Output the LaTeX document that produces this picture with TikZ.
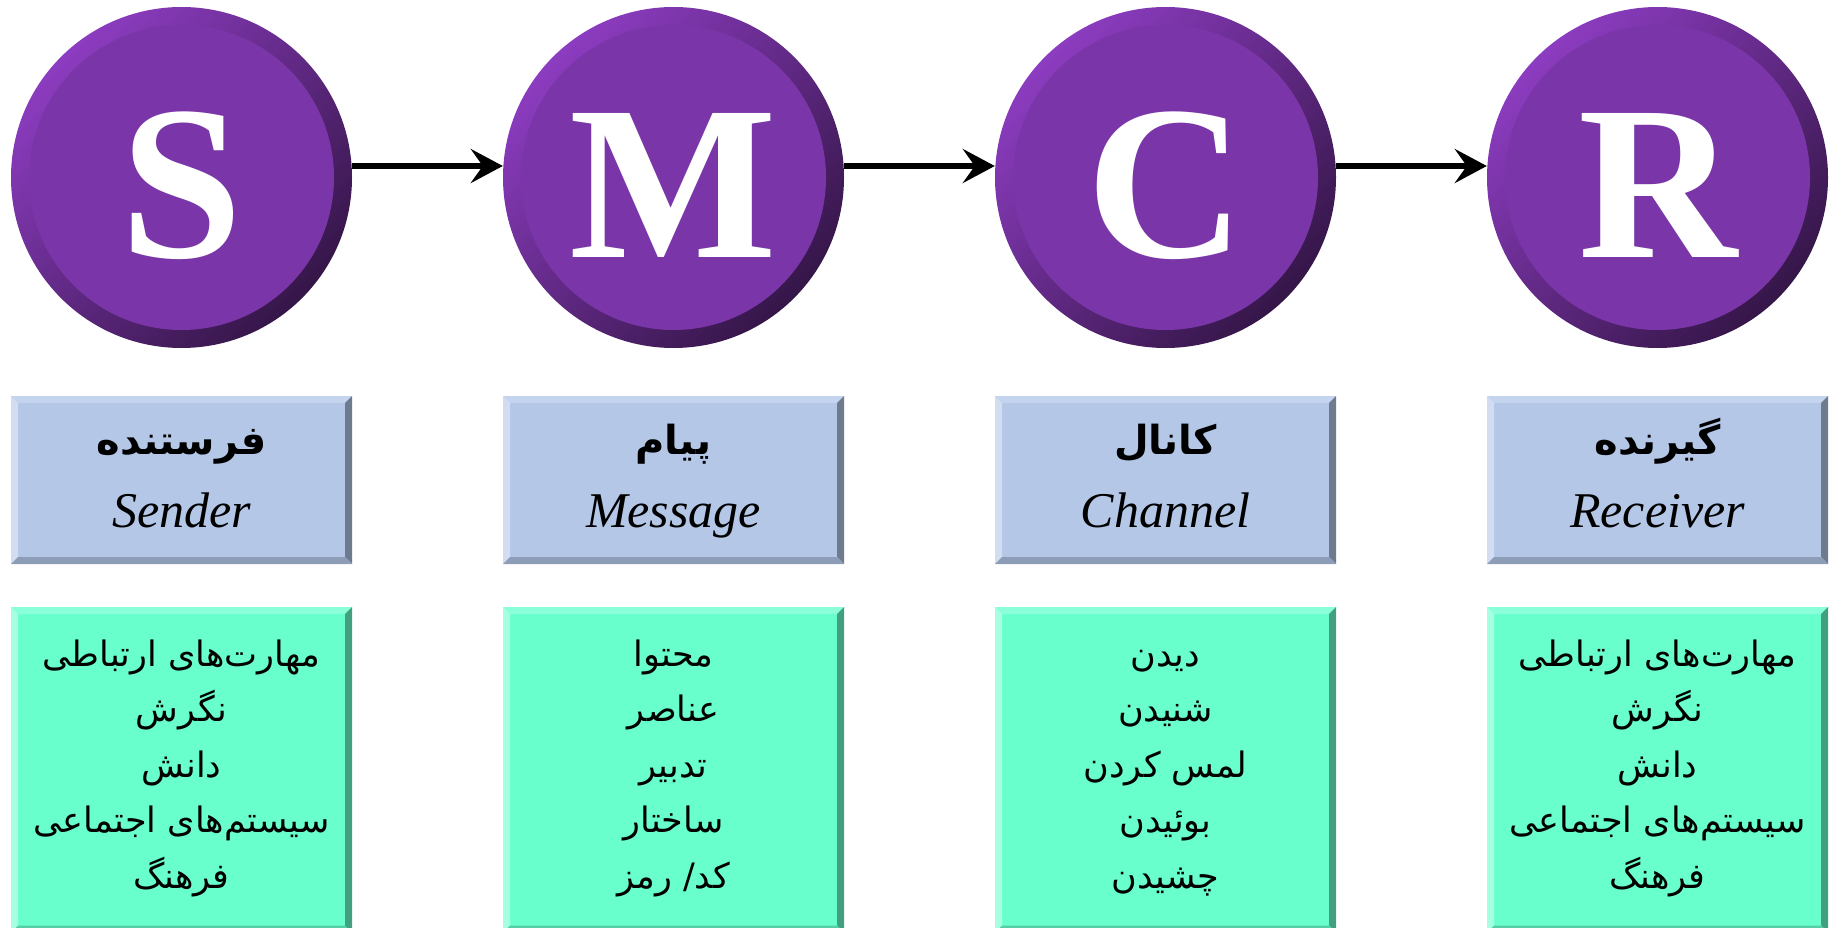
\documentclass[tikz,border=0pt]{standalone}
\usepackage{fontspec}
\setmainfont{Liberation Serif}
\newfontfamily\fa[Script=Arabic]{DejaVu Sans}
\TeXXeTstate=1
\usetikzlibrary{arrows.meta}
\definecolor{ringlight}{HTML}{8C3CC0}
\definecolor{ringdark}{HTML}{351648}
\definecolor{innerpurple}{HTML}{7A36A8}
\definecolor{bmain}{HTML}{B4C7E7}
\definecolor{btop}{HTML}{C4D3EE}
\definecolor{bleft}{HTML}{D2DDF1}
\definecolor{bright}{HTML}{6E7A8E}
\definecolor{bbottom}{HTML}{8E9DB7}
\definecolor{gmain}{HTML}{69FFCC}
\definecolor{gtop}{HTML}{8AFFDA}
\definecolor{gleft}{HTML}{A6FFE3}
\definecolor{gright}{HTML}{42A07F}
\definecolor{gbottom}{HTML}{56CFA6}
\tikzset{
  circ/.style={circle, minimum size=341pt, inner sep=0pt, shade, top color=ringlight, bottom color=ringdark, shading angle=45,
    path picture={\fill[innerpurple] (path picture bounding box.center) circle (152.5pt);}},
  letter/.style={text=white, font=\fontsize{220}{220}\selectfont\bfseries, inner sep=0pt},
  bevelbox/.style n args={5}{rectangle, inner sep=0pt, fill=#1,
    path picture={
      \coordinate (pnw) at (path picture bounding box.north west);
      \coordinate (pne) at (path picture bounding box.north east);
      \coordinate (psw) at (path picture bounding box.south west);
      \coordinate (pse) at (path picture bounding box.south east);
      \fill[#2] (pnw) -- (pne) -- ([shift={(-7pt,-7pt)}]pne) -- ([shift={(7pt,-7pt)}]pnw) -- cycle;
      \fill[#3] (pnw) -- ([shift={(7pt,-7pt)}]pnw) -- ([shift={(7pt,7pt)}]psw) -- (psw) -- cycle;
      \fill[#4] (pne) -- (pse) -- ([shift={(-7pt,7pt)}]pse) -- ([shift={(-7pt,-7pt)}]pne) -- cycle;
      \fill[#5] (psw) -- (pse) -- ([shift={(-7pt,7pt)}]pse) -- ([shift={(7pt,7pt)}]psw) -- cycle;
    }},
  bluebox/.style={bevelbox={bmain}{btop}{bleft}{bright}{bbottom}, minimum width=341pt, minimum height=168pt},
  greenbox/.style={bevelbox={gmain}{gtop}{gleft}{gright}{gbottom}, minimum width=341pt, minimum height=325.5pt},
  fahead/.style={anchor=base, inner sep=0pt, font=\fa\fontsize{40}{46}\selectfont\bfseries},
  enhead/.style={anchor=base, inner sep=0pt, font=\fontsize{50}{60}\selectfont\itshape},
  falist/.style={anchor=base, inner sep=0pt, font=\fa\fontsize{35}{55.5}\selectfont},
  arr/.style={line width=6pt, -{Stealth[length=32pt, width=34pt, inset=12pt]}}
}
\begin{document}
\begin{tikzpicture}[x=1pt, y=-1pt]
\useasboundingbox (0,0) rectangle (1831,928);
% circles
\node[circ] (S) at (181.5,177.5) {};
\node[circ] (M) at (673.5,177.5) {};
\node[circ] (C) at (1165.5,177.5) {};
\node[circ] (R) at (1657.5,177.5) {};
\node[letter, anchor=base] (Sl) at ([yshift=-80pt]S.center) {S};
\node[letter, anchor=base] (Ml) at ([yshift=-80pt]M.center) {M};
\node[letter, anchor=base] (Cl) at ([yshift=-80pt]C.center) {C};
\node[letter, anchor=base] (Rl) at ([yshift=-80pt]R.center) {R};
% arrows
\draw[arr] ([yshift=11.5pt]S.east) -- ([yshift=11.5pt]M.west);
\draw[arr] ([yshift=11.5pt]M.east) -- ([yshift=11.5pt]C.west);
\draw[arr] ([yshift=11.5pt]C.east) -- ([yshift=11.5pt]R.west);
% blue boxes
\node[bluebox] (B1) at (181.5,480) {};
\node[bluebox] (B2) at (673.5,480) {};
\node[bluebox] (B3) at (1165.5,480) {};
\node[bluebox] (B4) at (1657.5,480) {};
\node[fahead] (B1a) at (181.5,454) {\beginR فرستنده\endR};
\node[fahead] (B2a) at (673.5,454) {\beginR پیام\endR};
\node[fahead] (B3a) at (1165.5,454) {\beginR کانال\endR};
\node[fahead] (B4a) at (1657.5,454) {\beginR گیرنده\endR};
\node[enhead] (B1b) at (181.5,527) {Sender};
\node[enhead] (B2b) at (673.5,527) {Message};
\node[enhead] (B3b) at (1165.5,527) {Channel};
\node[enhead] (B4b) at (1657.5,527) {Receiver};
% green boxes
\node[greenbox] (G1) at (181.5,769.75) {};
\node[greenbox] (G2) at (673.5,769.75) {};
\node[greenbox] (G3) at (1165.5,769.75) {};
\node[greenbox] (G4) at (1657.5,769.75) {};
\node[falist] (G1t) at (181.5,666) {\begin{tabular}[t]{@{}c@{}}
\beginR مهارت^^^^200cهای ارتباطی\endR\\
\beginR نگرش\endR\\
\beginR دانش\endR\\
\beginR سیستم^^^^200cهای اجتماعی\endR\\
\beginR فرهنگ\endR
\end{tabular}};
\node[falist] (G2t) at (673.5,666) {\begin{tabular}[t]{@{}c@{}}
\beginR محتوا\endR\\
\beginR عناصر\endR\\
\beginR تدبیر\endR\\
\beginR ساختار\endR\\
\beginR کد/ رمز\endR
\end{tabular}};
\node[falist] (G3t) at (1165.5,666) {\begin{tabular}[t]{@{}c@{}}
\beginR دیدن\endR\\
\beginR شنیدن\endR\\
\beginR لمس کردن\endR\\
\beginR بوئیدن\endR\\
\beginR چشیدن\endR
\end{tabular}};
\node[falist] (G4t) at (1657.5,666) {\begin{tabular}[t]{@{}c@{}}
\beginR مهارت^^^^200cهای ارتباطی\endR\\
\beginR نگرش\endR\\
\beginR دانش\endR\\
\beginR سیستم^^^^200cهای اجتماعی\endR\\
\beginR فرهنگ\endR
\end{tabular}};
\end{tikzpicture}
\end{document}
